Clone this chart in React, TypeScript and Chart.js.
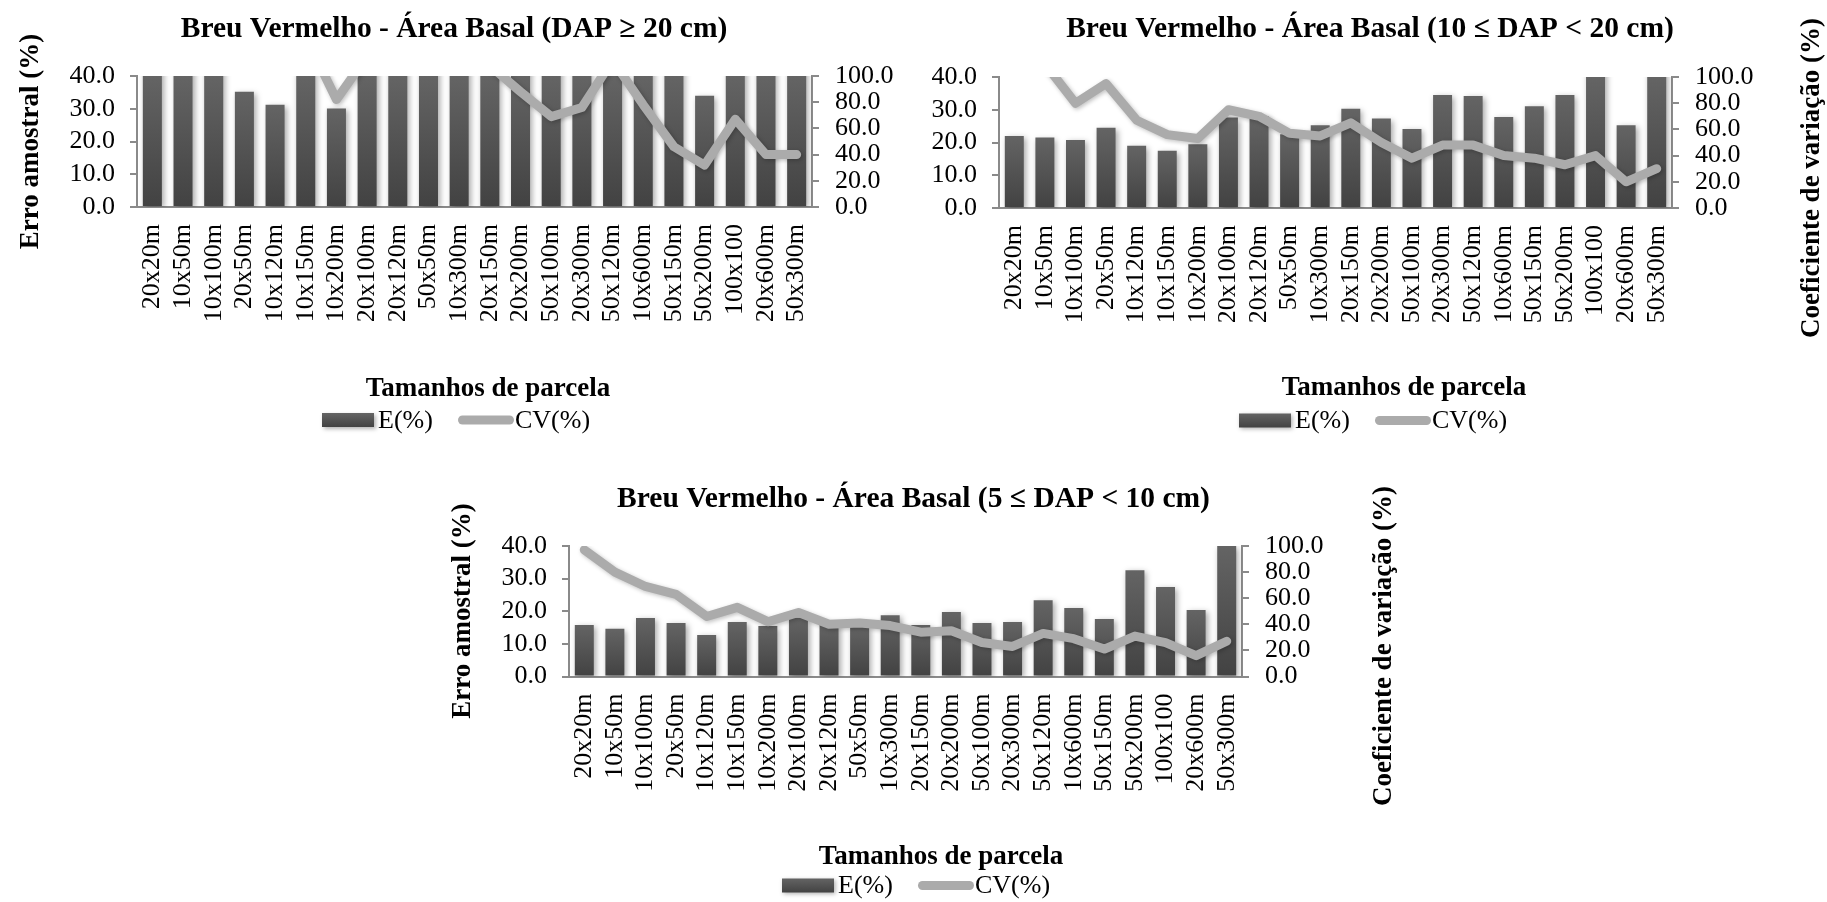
import React, { useEffect, useRef } from 'react';
import { Chart, registerables } from 'chart.js';

Chart.register(...registerables);

// ---------------- data ----------------
const categories = [
  '20x20m', '10x50m', '10x100m', '20x50m', '10x120m', '10x150m', '10x200m', '20x100m',
  '20x120m', '50x50m', '10x300m', '20x150m', '20x200m', '50x100m', '20x300m', '50x120m',
  '10x600m', '50x150m', '50x200m', '100x100', '20x600m', '50x300m',
];

// DAP >= 20 cm (values above the axis maximum are clipped in the original)
const erroDap20 = [46.5, 44.8, 43.9, 35.2, 31.2, 41.7, 30.1, 49.3, 47.6, 52.4, 45.8, 50.9, 48.2, 55.1, 53.6, 58.7, 46.3, 44.1, 34.0, 56.2, 61.5, 57.9];
const cvDap20 = [240, 205, 190, 150, 138, 130, 82, 115, 160, 175, 145, 108, 88, 69, 76, 112, 78, 46, 32, 67, 40, 40];

// 10 <= DAP < 20 cm
const erroDap10a20 = [22.0, 21.5, 20.8, 24.5, 19.0, 17.5, 19.5, 27.6, 28.1, 22.5, 25.3, 30.3, 27.3, 24.1, 34.5, 34.2, 27.8, 31.1, 34.5, 44.0, 25.3, 47.0];
const cvDap10a20 = [125, 110, 80, 95, 67, 56, 53, 75, 70, 57, 55, 65, 50, 38, 48, 48, 40, 38, 33, 40, 20, 30];

// 5 <= DAP < 10 cm
const erroDap5a10 = [15.8, 14.6, 17.9, 16.4, 12.7, 16.7, 15.5, 18.0, 15.8, 15.5, 18.8, 15.8, 19.8, 16.4, 16.7, 23.4, 21.0, 17.6, 32.6, 27.4, 20.4, 40.0];
const cvDap5a10 = [97, 80, 69, 63, 46, 53, 42, 49, 40, 41, 39, 34, 35, 26, 23, 33, 29, 21, 31, 26, 16, 27];

const erroAxis = { min: 0, max: 40, step: 10 };
const cvAxis = { min: 0, max: 100, step: 20 };

const seriesNames = ['E(%)', 'CV(%)'];
const xAxisTitle = 'Tamanhos de parcela';
const leftAxisTitle = 'Erro amostral (%)';
const rightAxisTitle = 'Coeficiente de variação (%)';

// ---------------- styles / layout ----------------
const FONT = '"Liberation Serif", "Times New Roman", serif';
const TICK_SIZE = 26;
const AXIS_TITLE_SIZE = 27;
const TITLE_SIZE = 29.5;
const LEGEND_SIZE = 26;
const AXIS_COLOR = '#8a8a8a';
const LINE_COLOR = '#ababab';
const BAR_TOP = '#646464';
const BAR_BOTTOM = '#424242';
const AXIS_BOX = 90;
const XAXIS_BOX = 130;

Chart.defaults.font.family = FONT;
Chart.defaults.color = '#000';

type Pt = { x: number; y: number };
type PanelSpec = {
  box: { x: number; y: number; w: number; h: number };
  plot: { l: number; t: number; r: number; b: number };
  title: string;
  titleAt: Pt;
  xTitleAt: Pt;
  legendAt: Pt;
  leftTitleAt: Pt | null;
  rightTitleAt: Pt | null;
  erro: number[];
  cv: number[];
};

const panels: PanelSpec[] = [
  {
    box: { x: 0, y: 0, w: 905, h: 451 },
    plot: { l: 137, t: 76, r: 812, b: 207 },
    title: 'Breu Vermelho - Área Basal (DAP ≥ 20 cm)',
    titleAt: { x: 454, y: 37 },
    xTitleAt: { x: 488, y: 395.5 },
    legendAt: { x: 322, y: 427.5 },
    leftTitleAt: { x: 37.5, y: 141.5 },
    rightTitleAt: null,
    erro: erroDap20,
    cv: cvDap20,
  },
  {
    box: { x: 905, y: 0, w: 922, h: 451 },
    plot: { l: 999, t: 77, r: 1672, b: 208 },
    title: 'Breu Vermelho - Área Basal (10 ≤ DAP < 20 cm)',
    titleAt: { x: 1370, y: 37 },
    xTitleAt: { x: 1404, y: 395 },
    legendAt: { x: 1239, y: 428 },
    leftTitleAt: null,
    rightTitleAt: { x: 1819, y: 178 },
    erro: erroDap10a20,
    cv: cvDap10a20,
  },
  {
    box: { x: 380, y: 451, w: 1060, h: 451 },
    plot: { l: 569, t: 546, r: 1242, b: 676.5 },
    title: 'Breu Vermelho - Área Basal (5 ≤ DAP < 10 cm)',
    titleAt: { x: 913.5, y: 506.5 },
    xTitleAt: { x: 941, y: 863.5 },
    legendAt: { x: 782, y: 893 },
    leftTitleAt: { x: 470, y: 611 },
    rightTitleAt: { x: 1391, y: 646 },
    erro: erroDap5a10,
    cv: cvDap5a10,
  },
];

// ---------------- plugins ----------------
const shadowPlugin = {
  id: 'softShadow',
  beforeDatasetDraw(chart: any, args: any) {
    const ctx = chart.ctx;
    ctx.save();
    if (args.meta.type === 'bar') {
      ctx.shadowColor = 'rgba(0,0,0,0.35)';
      ctx.shadowBlur = 6;
      ctx.shadowOffsetX = 2;
      ctx.shadowOffsetY = 2;
    } else {
      ctx.shadowColor = 'rgba(0,0,0,0.25)';
      ctx.shadowBlur = 4;
      ctx.shadowOffsetX = 1.5;
      ctx.shadowOffsetY = 1.5;
    }
  },
  afterDatasetDraw(chart: any) {
    chart.ctx.restore();
  },
};

function makeTextPlugin(spec: PanelSpec) {
  return {
    id: 'panelText',
    afterDraw(chart: any) {
      const ctx: CanvasRenderingContext2D = chart.ctx;
      const ox = spec.box.x;
      const oy = spec.box.y;
      ctx.save();
      ctx.fillStyle = '#000';
      ctx.textBaseline = 'alphabetic';
      ctx.textAlign = 'center';

      ctx.font = `bold ${TITLE_SIZE}px ${FONT}`;
      ctx.fillText(spec.title, spec.titleAt.x - ox, spec.titleAt.y - oy);

      ctx.font = `bold ${AXIS_TITLE_SIZE}px ${FONT}`;
      ctx.fillText(xAxisTitle, spec.xTitleAt.x - ox, spec.xTitleAt.y - oy);

      const vertical = (text: string, p: Pt) => {
        ctx.save();
        ctx.translate(p.x - ox, p.y - oy);
        ctx.rotate(-Math.PI / 2);
        ctx.fillText(text, 0, 0);
        ctx.restore();
      };
      if (spec.leftTitleAt) vertical(leftAxisTitle, spec.leftTitleAt);
      if (spec.rightTitleAt) vertical(rightAxisTitle, spec.rightTitleAt);

      // legend
      const lx = spec.legendAt.x - ox;
      const ly = spec.legendAt.y - oy;
      const midY = ly - 7.5;
      ctx.save();
      ctx.shadowColor = 'rgba(0,0,0,0.3)';
      ctx.shadowBlur = 4;
      ctx.shadowOffsetX = 1.5;
      ctx.shadowOffsetY = 1.5;
      const g = ctx.createLinearGradient(0, midY - 7, 0, midY + 7);
      g.addColorStop(0, BAR_TOP);
      g.addColorStop(1, BAR_BOTTOM);
      ctx.fillStyle = g;
      ctx.fillRect(lx, midY - 7, 52, 14);
      ctx.restore();

      ctx.font = `${LEGEND_SIZE}px ${FONT}`;
      ctx.textAlign = 'left';
      const eX = lx + 56;
      ctx.fillText(seriesNames[0], eX, ly);

      const lineStart = eX + 80;
      const lineEnd = lineStart + 56;
      ctx.save();
      ctx.strokeStyle = LINE_COLOR;
      ctx.lineWidth = 9;
      ctx.lineCap = 'round';
      ctx.beginPath();
      ctx.moveTo(lineStart + 4.5, midY);
      ctx.lineTo(lineEnd - 4.5, midY);
      ctx.stroke();
      ctx.restore();
      ctx.fillText(seriesNames[1], lineEnd + 1, ly);

      ctx.restore();
    },
  };
}

// ---------------- chart config ----------------
function barGradient(context: any) {
  const chart = context.chart;
  const { chartArea, scales } = chart;
  if (!chartArea || context.type !== 'data' || !scales.y) return BAR_BOTTOM;
  const v = context.parsed ? context.parsed.y : context.raw;
  const top = Math.max(scales.y.getPixelForValue(v), chartArea.top);
  const bottom = scales.y.getPixelForValue(0);
  const g = chart.ctx.createLinearGradient(0, top, 0, bottom);
  g.addColorStop(0, BAR_TOP);
  g.addColorStop(1, BAR_BOTTOM);
  return g;
}

function buildConfig(spec: PanelSpec): any {
  const { box, plot } = spec;
  const padding = {
    left: plot.l - box.x - AXIS_BOX,
    right: box.x + box.w - plot.r - AXIS_BOX,
    top: plot.t - box.y,
    bottom: box.y + box.h - plot.b - XAXIS_BOX,
  };
  const tickFont = { size: TICK_SIZE, family: FONT };
  const yGrid = {
    display: true,
    drawOnChartArea: false,
    drawTicks: true,
    tickLength: 7,
    color: AXIS_COLOR,
    lineWidth: 2,
  };
  return {
    type: 'bar',
    data: {
      labels: categories,
      datasets: [
        {
          type: 'line',
          label: seriesNames[1],
          data: spec.cv,
          yAxisID: 'y1',
          borderColor: LINE_COLOR,
          backgroundColor: LINE_COLOR,
          borderWidth: 9,
          pointRadius: 0,
          pointHoverRadius: 0,
          tension: 0,
          fill: false,
          borderCapStyle: 'round',
          borderJoinStyle: 'round',
          order: 0,
        },
        {
          type: 'bar',
          label: seriesNames[0],
          data: spec.erro,
          yAxisID: 'y',
          backgroundColor: barGradient,
          borderWidth: 0,
          categoryPercentage: 1,
          barPercentage: 0.62,
          order: 1,
        },
      ],
    },
    options: {
      responsive: false,
      maintainAspectRatio: false,
      animation: false,
      devicePixelRatio: 1,
      events: [],
      layout: { padding },
      plugins: {
        legend: { display: false },
        title: { display: false },
        tooltip: { enabled: false },
      },
      scales: {
        x: {
          type: 'category',
          offset: true,
          z: 1,
          grid: { display: true, drawOnChartArea: false, drawTicks: false },
          border: { display: true, color: AXIS_COLOR, width: 2 },
          ticks: {
            font: tickFont,
            color: '#000',
            minRotation: 90,
            maxRotation: 90,
            autoSkip: false,
            padding: 17,
          },
          afterFit: (scale: any) => {
            scale.height = XAXIS_BOX;
          },
        },
        y: {
          type: 'linear',
          position: 'left',
          min: erroAxis.min,
          max: erroAxis.max,
          grid: yGrid,
          border: { display: true, color: AXIS_COLOR, width: 2 },
          ticks: {
            stepSize: erroAxis.step,
            font: tickFont,
            color: '#000',
            padding: 15,
            autoSkip: false,
            callback: (v: any) => Number(v).toFixed(1),
          },
          afterFit: (scale: any) => {
            scale.width = AXIS_BOX;
          },
        },
        y1: {
          type: 'linear',
          position: 'right',
          min: cvAxis.min,
          max: cvAxis.max,
          grid: yGrid,
          border: { display: true, color: AXIS_COLOR, width: 2 },
          ticks: {
            stepSize: cvAxis.step,
            font: tickFont,
            color: '#000',
            padding: 16,
            autoSkip: false,
            callback: (v: any) => Number(v).toFixed(1),
          },
          afterFit: (scale: any) => {
            scale.width = AXIS_BOX;
          },
        },
      },
    },
    plugins: [shadowPlugin, makeTextPlugin(spec)],
  };
}

function Panel({ spec }: { spec: PanelSpec }) {
  const ref = useRef<HTMLCanvasElement | null>(null);
  useEffect(() => {
    const canvas = ref.current;
    if (!canvas) return;
    const chart = new Chart(canvas, buildConfig(spec));
    return () => {
      chart.destroy();
    };
  }, [spec]);
  return (
    <canvas
      ref={ref}
      width={spec.box.w}
      height={spec.box.h}
      style={{
        position: 'absolute',
        left: spec.box.x,
        top: spec.box.y,
        width: spec.box.w,
        height: spec.box.h,
      }}
    />
  );
}

export default function App() {
  return (
    <div
      style={{
        position: 'absolute',
        left: 0,
        top: 0,
        width: 1827,
        height: 902,
        background: '#ffffff',
        overflow: 'hidden',
      }}
    >
      {panels.map((p, i) => (
        <Panel key={i} spec={p} />
      ))}
    </div>
  );
}
